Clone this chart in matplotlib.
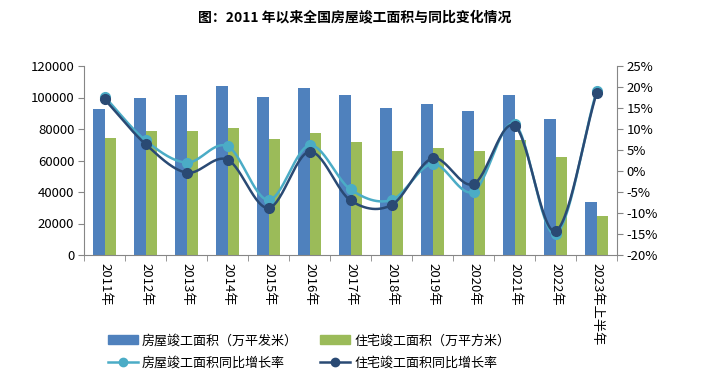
import numpy as np
import matplotlib
matplotlib.use('Agg')
import matplotlib.pyplot as plt
from matplotlib.ticker import FuncFormatter
from matplotlib.lines import Line2D
from matplotlib.patches import Patch

plt.rcParams['font.family'] = ['Noto Sans CJK SC', 'DejaVu Sans']

years = ['2011年', '2012年', '2013年', '2014年', '2015年', '2016年', '2017年',
         '2018年', '2019年', '2020年', '2021年', '2022年', '2023年上半年']
house_area = [92620, 99425, 101435, 107459, 100039, 106128, 101486,
              93550, 95942, 91218, 101412, 86222, 33904]
resi_area = [74319, 79043, 78741, 80868, 73777, 77185, 71815,
             66016, 68011, 65910, 73016, 62539, 24704]
house_yoy = [17.7, 7.3, 2.0, 5.9, -6.9, 6.1, -4.4, -6.9, 1.7, -4.9, 11.2, -15.0, 19.0]
resi_yoy = [17.1, 6.4, -0.4, 2.7, -8.8, 4.6, -7.0, -8.1, 3.0, -3.1, 10.8, -14.3, 18.5]

c_house = '#4F81BD'
c_resi = '#9BBB59'
c_line1 = '#4BACC6'
c_line2 = '#2A4A74'
gray = '#868686'


def smooth(x, y, n=30):
    # catmull-rom style curve through the points, like excel's smoothed line
    x = np.asarray(x, float)
    y = np.asarray(y, float)
    px = np.concatenate([[2 * x[0] - x[1]], x, [2 * x[-1] - x[-2]]])
    py = np.concatenate([[2 * y[0] - y[1]], y, [2 * y[-1] - y[-2]]])
    xs, ys = [], []
    for i in range(1, len(px) - 2):
        t = np.linspace(0, 1, n, endpoint=False)
        for p, out in ((px, xs), (py, ys)):
            p0, p1, p2, p3 = p[i - 1], p[i], p[i + 1], p[i + 2]
            out.extend(0.5 * ((2 * p1) + (-p0 + p2) * t
                              + (2 * p0 - 5 * p1 + 4 * p2 - p3) * t ** 2
                              + (-p0 + 3 * p1 - 3 * p2 + p3) * t ** 3))
    xs.append(x[-1])
    ys.append(y[-1])
    return np.array(xs), np.array(ys)


fig = plt.figure(figsize=(7.09, 3.86), dpi=100)
ax = fig.add_axes([84 / 709, 1 - 255 / 386, (617 - 84) / 709, (255 - 66) / 386])
ax2 = ax.twinx()

x = np.arange(len(years))
w = 0.29
ax.bar(x - w / 2, house_area, w, color=c_house, zorder=2)
ax.bar(x + w / 2, resi_area, w, color=c_resi, zorder=2)

ax.set_xlim(-0.5, len(years) - 0.5)
ax.set_ylim(0, 120000)
ax.set_yticks(range(0, 120001, 20000))
ax.set_xticks(x)
ax.set_xticklabels(years, rotation=-90, va='top', ha='center', fontsize=9.5)
ax.set_xticks(np.arange(-0.5, len(years), 1), minor=True)
ax.tick_params(axis='x', which='major', length=0, pad=6)
ax.tick_params(axis='x', which='minor', length=4, color=gray, direction='out')
ax.tick_params(axis='y', length=4, color=gray, labelsize=9.5, pad=3)

sx, sy = smooth(x, house_yoy)
ax2.plot(sx, sy, color=c_line1, lw=1.8, zorder=3)
ax2.plot(x, house_yoy, 'o', color=c_line1, ms=7, zorder=3)
sx, sy = smooth(x, resi_yoy)
ax2.plot(sx, sy, color=c_line2, lw=1.8, zorder=4)
ax2.plot(x, resi_yoy, 'o', color=c_line2, ms=7, zorder=4)
ax2.set_ylim(-20, 25)
ax2.set_yticks(range(-20, 26, 5))
ax2.yaxis.set_major_formatter(FuncFormatter(lambda v, p: f'{v:.0f}%'))
ax2.tick_params(axis='y', length=4, color=gray, labelsize=9.5, pad=3)

for a in (ax, ax2):
    a.spines['top'].set_visible(False)
    for s in ('left', 'right', 'bottom'):
        a.spines[s].set_color(gray)
ax.spines['right'].set_visible(False)
ax2.spines['left'].set_visible(False)
ax2.spines['bottom'].set_visible(False)

fig.text(0.5, 1 - 17 / 386, '图：2011 年以来全国房屋竣工面积与同比变化情况',
         ha='center', va='center', fontsize=10, fontweight='bold')

# legend fills column by column, so order is patch, line, patch, line
handles = [Patch(color=c_house),
           Line2D([], [], color=c_line1, lw=1.8, marker='o', ms=6),
           Patch(color=c_resi),
           Line2D([], [], color=c_line2, lw=1.8, marker='o', ms=6)]
labels = ['房屋竣工面积（万平发米）', '房屋竣工面积同比增长率',
          '住宅竣工面积（万平方米）', '住宅竣工面积同比增长率']
fig.legend(handles, labels, ncol=2, loc='center', bbox_to_anchor=(309 / 709, 1 - 352 / 386),
           frameon=False, fontsize=9.4, handlelength=2.3, columnspacing=1.7,
           labelspacing=0.7, handletextpad=0.3)

fig.savefig('out.png', dpi=100)
